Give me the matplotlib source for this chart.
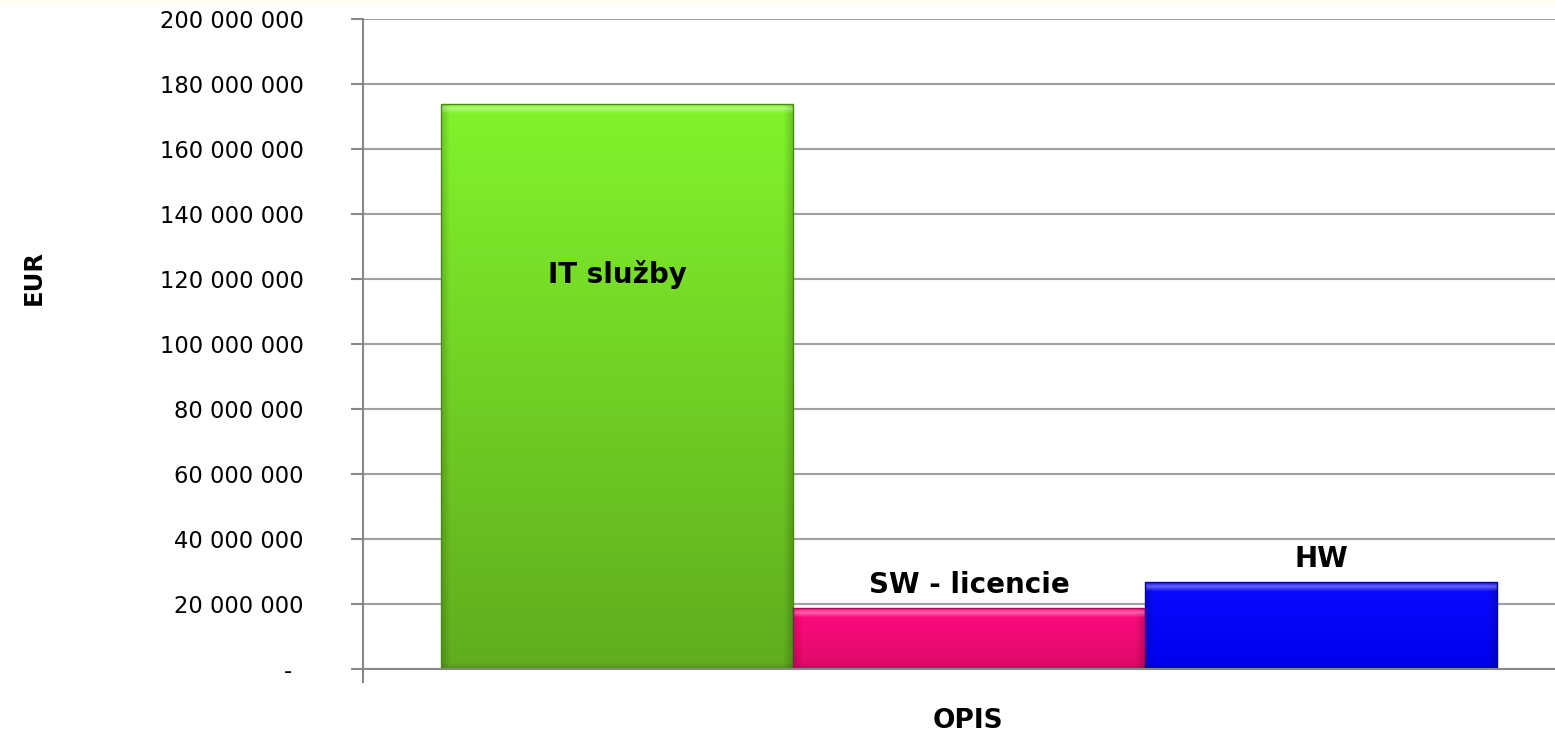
import matplotlib
matplotlib.use("Agg")
import matplotlib.pyplot as plt
import numpy as np
from matplotlib.colors import to_rgb
from matplotlib.patches import Rectangle

# Data
categories = ["IT služby", "SW - licencie", "HW"]
values = [173_700_000, 18_700_000, 26_700_000]
top_colors = ["#82F42C", "#FF0A80", "#0A0AFF"]
bottom_colors = ["#60AC1E", "#DE0A68", "#0000EE"]
edge_colors = ["#4A8A14", "#B00850", "#0000B0"]
y_ticks = list(range(0, 200_000_001, 20_000_000))
y_tick_labels = ["- \u2009"] + [f"{v:,}".replace(",", " ") for v in y_ticks[1:]]

plt.rcParams['font.family'] = ['DejaVu Sans']

W, H = 1555, 734
fig = plt.figure(figsize=(W / 100, H / 100), dpi=100)
fig.patches.append(Rectangle((0, 1 - 4 / H), 1, 4 / H, transform=fig.transFigure,
                             facecolor="#FFFDF0", edgecolor="none", zorder=0))
ax = fig.add_axes([363 / W, 65 / H, (1575 - 363) / W, 650 / H])

gap = 0.222
left_lim = -1.5 - gap
right_lim = 1.5 + gap
ax.set_xlim(left_lim, right_lim)
ax.set_ylim(0, 200_000_000)

positions = [-1, 0, 1]
bars = ax.bar(positions, values, width=1.0, color="none", zorder=3)

# pixel scale of the axes, to build a bevel-like shading image per bar
px_per_x = (1575 - 363) / (right_lim - left_lim)
px_per_y = 650 / 200_000_000


def bevel_image(tc, bc, wpx, hpx):
    tc, bc = np.array(to_rgb(tc)), np.array(to_rgb(bc))
    rows = np.arange(hpx)[:, None]          # 0 = bottom
    t = (rows / max(hpx - 1, 1))[..., None]
    img = bc + (tc - bc) * t                 # vertical gradient
    img = np.repeat(img, wpx, axis=1)
    cols = np.arange(wpx)[None, :]
    dist_side = np.minimum(cols, wpx - 1 - cols)
    side = np.clip(1 - dist_side / 9.0, 0, 1)[..., None]
    img = img * (1 - 0.18 * side)
    dist_top = (hpx - 1 - rows)[..., None]
    top = np.clip(1 - np.abs(dist_top - 4) / 5.0, 0, 1)
    img = img + (1 - img) * 0.35 * top
    dist_bot = rows[..., None]
    bot = np.clip(1 - dist_bot / 6.0, 0, 1)
    img = img * (1 - 0.12 * bot)
    return np.clip(img, 0, 1)


for bar, tc, bc, ec in zip(bars, top_colors, bottom_colors, edge_colors):
    x0, y0 = bar.get_x(), bar.get_y()
    w, h = bar.get_width(), bar.get_height()
    wpx = max(int(round(w * px_per_x)), 2)
    hpx = max(int(round(h * px_per_y)), 2)
    img = bevel_image(tc, bc, wpx, hpx)
    im = ax.imshow(img, origin="lower", aspect="auto", interpolation="bilinear",
                   extent=(x0, x0 + w, y0, y0 + h), zorder=2.5)
    im.set_clip_path(bar)
    bar.set_edgecolor(ec)
    bar.set_linewidth(1.0)

ax.set_xlim(left_lim, right_lim)
ax.set_ylim(0, 200_000_000)

ax.set_yticks(y_ticks)
ax.set_yticklabels(y_tick_labels, fontsize=16.3)
ax.set_xticks([left_lim])
ax.set_xticklabels([""])
ax.tick_params(axis="y", length=9, width=1.5, color="#888888", pad=33.8)
ax.tick_params(axis="x", length=10, width=1.5, color="#888888")

ax.grid(axis="y", color="#A0A0A0", linewidth=1.5, zorder=0)
ax.set_axisbelow(True)
for s in ["top", "right"]:
    ax.spines[s].set_visible(False)
for s in ["left", "bottom"]:
    ax.spines[s].set_color("#888888")
    ax.spines[s].set_linewidth(1.5)
    ax.spines[s].set_zorder(4)

# Labels
ax.text(positions[0], 118_800_000, categories[0], ha="center", va="baseline",
        fontsize=20, fontweight="bold", zorder=5)
for p, v, c in zip(positions[1:], values[1:], categories[1:]):
    ax.annotate(c, (p, v), xytext=(0, 10.8), textcoords="offset points",
                ha="center", va="baseline", fontsize=20, fontweight="bold", zorder=5)

fig.text(33.5 / W, 1 - 278 / H, "EUR", rotation=90, ha="center", va="center",
         fontsize=17.5, fontweight="bold")
fig.text(968 / W, 6 / H, "OPIS", ha="center", va="baseline",
         fontsize=19, fontweight="bold")

fig.savefig("out.png", dpi=100)
